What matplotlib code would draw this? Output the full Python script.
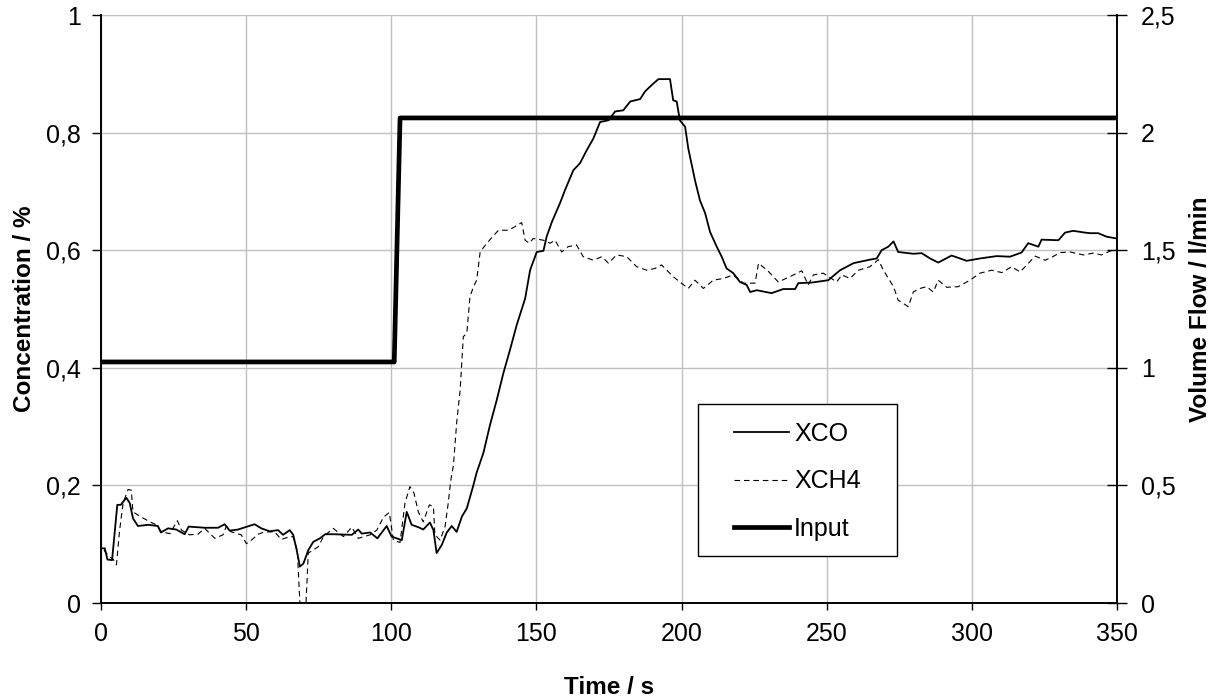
import matplotlib
matplotlib.use("Agg")
import matplotlib.pyplot as plt
from matplotlib.patches import Rectangle
from matplotlib.ticker import FuncFormatter, MultipleLocator

plt.rcParams['font.family'] = ['Liberation Sans', 'DejaVu Sans']

# === Data ===
t_xco = [0.5, 1.3, 2.2, 3.8, 5.6, 6.8, 8.7, 9.9, 11, 12.7, 16.2, 19.6, 20.6, 23.1, 25.9,
         28.8, 30.2, 35.7, 40.3, 42.6, 44.3, 47.2, 52.9, 55.2, 58.1, 61, 62.7, 65, 66.2,
         67.4, 68.5, 69.7, 71.4, 73.1, 75.4, 77.2, 80, 86.4, 88.6, 89.8, 92.7, 95.2, 98.4,
         100.1, 103.6, 105.3, 107, 109.3, 111, 113.3, 114.5, 115.6, 117.4, 119.1, 120.8,
         122.5, 124.3, 126, 128.3, 129.4, 131.7, 134, 136.3, 138.6, 140.9, 143.2, 146.1,
         147.8, 150.1, 152.4, 153.5, 155.3, 158.1, 159.8, 162.7, 165, 167.3, 169.6, 171.9,
         174.8, 177.1, 179.9, 182.3, 185.7, 187.4, 189.7, 192, 196, 197.1, 198.3, 199.4,
         201.2, 202.3, 204.6, 206.3, 208.1, 209.8, 212.1, 213.8, 215.5, 217.8, 220.1,
         222.4, 223.6, 225.9, 231, 235, 239.1, 240.2, 244.8, 250.5, 254.6, 259.2, 264.9,
         267.2, 268.9, 271.2, 273, 274.6, 279.8, 282.7, 285.6, 288.4, 293, 298.2, 302.8,
         308.5, 313.1, 317.1, 319.4, 322.9, 324, 329.8, 332.1, 334.9, 338.9, 340.7, 343.5,
         346.4, 349.8]
xco = [0.093, 0.093, 0.074, 0.073, 0.167, 0.167, 0.179, 0.170, 0.144, 0.131, 0.133, 0.131,
       0.120, 0.127, 0.125, 0.117, 0.130, 0.128, 0.128, 0.134, 0.123, 0.125, 0.134, 0.127,
       0.122, 0.124, 0.116, 0.124, 0.116, 0.090, 0.062, 0.067, 0.090, 0.104, 0.110, 0.117,
       0.117, 0.116, 0.125, 0.118, 0.120, 0.110, 0.131, 0.113, 0.107, 0.155, 0.133, 0.129,
       0.125, 0.137, 0.124, 0.085, 0.099, 0.120, 0.131, 0.121, 0.147, 0.161, 0.201, 0.222,
       0.255, 0.303, 0.345, 0.391, 0.431, 0.473, 0.518, 0.566, 0.597, 0.599, 0.623, 0.648,
       0.680, 0.702, 0.736, 0.748, 0.770, 0.790, 0.818, 0.821, 0.836, 0.838, 0.853, 0.857,
       0.870, 0.881, 0.891, 0.891, 0.855, 0.853, 0.821, 0.810, 0.773, 0.719, 0.685, 0.663,
       0.631, 0.606, 0.589, 0.569, 0.561, 0.546, 0.541, 0.529, 0.532, 0.527, 0.534, 0.534,
       0.544, 0.545, 0.549, 0.566, 0.578, 0.584, 0.586, 0.600, 0.606, 0.615, 0.597, 0.594,
       0.595, 0.586, 0.579, 0.591, 0.582, 0.586, 0.590, 0.589, 0.596, 0.612, 0.606, 0.618,
       0.617, 0.630, 0.633, 0.630, 0.629, 0.629, 0.623, 0.620]

t_xch4 = [1.0, 2.5, 4.1, 5.3, 6.4, 7.6, 9.3, 10.4, 11, 13.9, 17.3, 19, 20.8, 23.7, 26.3,
          27.7, 30.5, 33.4, 35.7, 39.2, 42, 43.2, 44.9, 48.3, 50.1, 51.8, 54.1, 56.4,
          59.8, 62.1, 65, 66.1, 67.6, 68.5, 70.6, 71.4, 74.9, 76.6, 80, 83.5, 86.4, 88.6,
          92.7, 95, 97.3, 99.3, 100.7, 103, 104.7, 106.4, 107.8, 109.3, 111, 113.1, 114.5,
          115, 116.8, 118.5, 119.6, 120.4, 121.4, 122.5, 123.7, 124.8, 126, 127.1, 128.3,
          129.4, 130.6, 132.9, 136.9, 139.8, 141.5, 144.9, 146.1, 147.5, 148.9, 152.4,
          154.7, 156.4, 158.7, 160.9, 163.8, 166.1, 169.6, 172.5, 174.8, 177.6, 181.1,
          184.5, 188, 190.8, 193.1, 197.1, 199.4, 202.3, 204.6, 207.5, 210.9, 214.4, 217.8,
          221.3, 225.3, 226.5, 229.9, 233.3, 237.3, 241.4, 243.6, 245.4, 248.8, 253.4,
          255.2, 258, 260.9, 264.9, 267.8, 269.5, 273, 274.6, 278.1, 279.8, 282.1, 284.4,
          286.7, 288.4, 291.3, 295.3, 299.3, 302.8, 306.8, 310.3, 313.7, 316.6, 318.9,
          321.8, 325.2, 327.5, 330.4, 333.8, 338.4, 341.8, 344.7, 348.2, 349.8]
xch4 = [0.090, 0.080, 0.075, 0.065, 0.124, 0.170, 0.193, 0.192, 0.155, 0.146, 0.137, 0.133,
        0.121, 0.118, 0.140, 0.124, 0.116, 0.117, 0.127, 0.110, 0.116, 0.131, 0.121, 0.116,
        0.101, 0.107, 0.117, 0.121, 0.121, 0.108, 0.113, 0.113, 0.090, 0.0, 0.0, 0.085,
        0.096, 0.113, 0.127, 0.113, 0.129, 0.110, 0.116, 0.124, 0.146, 0.154, 0.107, 0.103,
        0.170, 0.198, 0.187, 0.155, 0.138, 0.167, 0.164, 0.116, 0.107, 0.130, 0.170, 0.206,
        0.235, 0.306, 0.362, 0.453, 0.459, 0.521, 0.538, 0.549, 0.597, 0.612, 0.634, 0.634,
        0.637, 0.647, 0.617, 0.612, 0.620, 0.617, 0.612, 0.617, 0.597, 0.606, 0.609, 0.589,
        0.583, 0.589, 0.578, 0.592, 0.589, 0.572, 0.566, 0.569, 0.575, 0.555, 0.546, 0.535,
        0.549, 0.535, 0.549, 0.552, 0.558, 0.544, 0.544, 0.578, 0.564, 0.546, 0.555, 0.565,
        0.541, 0.558, 0.561, 0.546, 0.558, 0.552, 0.566, 0.572, 0.584, 0.566, 0.538, 0.515,
        0.504, 0.529, 0.535, 0.538, 0.529, 0.549, 0.537, 0.538, 0.549, 0.561, 0.566, 0.562,
        0.572, 0.563, 0.575, 0.590, 0.583, 0.588, 0.596, 0.597, 0.592, 0.595, 0.592, 0.600,
        0.600]

t_input = [0.5, 101, 103, 350]
flow_input = [1.025, 1.025, 2.0625, 2.0625]


def comma(v, pos):
    s = f"{v:g}"
    return s.replace(".", ",")


# === Plot ===
fig = plt.figure(figsize=(12.13, 6.99), dpi=100)
ax = fig.add_axes([0.0833, 0.1373, 0.8376, 0.8412])
ax2 = ax.twinx()

ax.plot(t_xco, xco, color="black", lw=1.3, label="XCO")
ax.plot(t_xch4, xch4, color="black", lw=0.8, dashes=(5, 3.5), label="XCH4")
ax2.plot(t_input, flow_input, color="black", lw=3.4, label="Input")

ax.set_xlim(0, 350)
ax.set_ylim(0, 1)
ax2.set_ylim(0, 2.5)
ax.xaxis.set_major_locator(MultipleLocator(50))
ax.yaxis.set_major_locator(MultipleLocator(0.2))
ax2.yaxis.set_major_locator(MultipleLocator(0.5))
ax.yaxis.set_major_formatter(FuncFormatter(comma))
ax2.yaxis.set_major_formatter(FuncFormatter(comma))

ax.grid(True, color="#c0c0c0", lw=1.0)
ax.set_axisbelow(True)
for a in (ax, ax2):
    a.spines["top"].set_visible(False)
    a.spines["left"].set_linewidth(1.2)
    a.spines["right"].set_linewidth(1.2)
    a.spines["bottom"].set_linewidth(1.2)

ax.tick_params(axis="y", direction="out", length=6.5, width=1, labelsize=18, pad=8)
ax.tick_params(axis="x", direction="out", length=5, width=1, labelsize=18, pad=9)
ax2.tick_params(axis="y", direction="inout", length=14, width=1, labelsize=18, pad=10)

ax.set_xlabel("Time / s", fontsize=17.5, fontweight="bold", labelpad=21)
ax.set_ylabel("Concentration / %", fontsize=17.5, fontweight="bold", labelpad=7)
ax2.set_ylabel("Volume Flow / l/min", fontsize=17.5, fontweight="bold", labelpad=10)

# legend box: white frame drawn separately, entries centred inside it
box = Rectangle((0.588, 0.08), 0.195, 0.258, transform=ax2.transAxes,
                facecolor="white", edgecolor="black", lw=1.0, zorder=5)
ax2.add_patch(box)
h1, l1 = ax.get_legend_handles_labels()
h2, l2 = ax2.get_legend_handles_labels()
leg = ax2.legend(h1 + h2, l1 + l2, loc="center", bbox_to_anchor=(0.6855, 0.207),
                 fontsize=18, frameon=False, handlelength=2.2, handletextpad=0.2,
                 labelspacing=0.95, borderpad=0)
leg.set_zorder(6)

fig.savefig("out.png", dpi=100)
